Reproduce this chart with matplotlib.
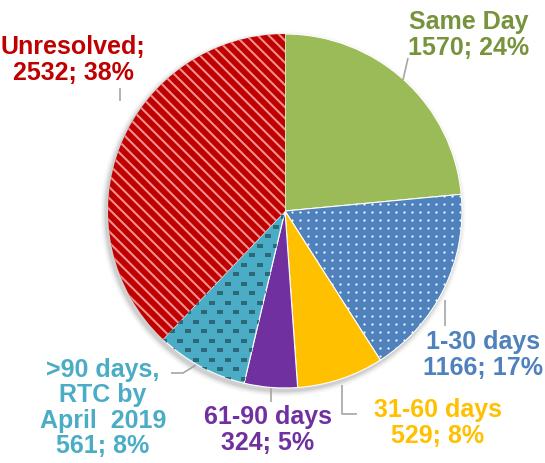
import numpy as np
import matplotlib
matplotlib.use("Agg")
import matplotlib.pyplot as plt
from matplotlib.patches import Circle

categories = ["Same Day", "1-30 days", "31-60 days", "61-90 days",
              ">90 days,\nRTC by\nApril  2019", "Unresolved"]
values = [1570, 1166, 529, 324, 561, 2532]
percents = [24, 17, 8, 5, 8, 38]
slice_colors = ["#9BBB59", "#4F81BD", "#FFC000", "#7030A0", "#4BACC6", "#C00000"]
label_colors = ["#77933C", "#4F81BD", "#FFC000", "#7030A0", "#4BACC6", "#C00000"]

W, H = 545, 463
fig = plt.figure(figsize=(W / 100, H / 100), dpi=100)
ax = fig.add_axes([0, 0, 1, 1])

cx, cy, R = 285, H - 211, 177

# soft shadow
for i, a in enumerate(np.linspace(0.05, 0.012, 6)):
    ax.add_patch(Circle((cx - 2, cy - 3), R + 1 + i, color="black", alpha=a, lw=0, zorder=0))

plt.rcParams["hatch.linewidth"] = 1.5
wedges, _ = ax.pie(values, colors=slice_colors, startangle=90, counterclock=False,
                   center=(cx, cy), radius=R, frame=True,
                   wedgeprops=dict(linewidth=0.8, edgecolor="white"))
ax.set_xlim(0, W)
ax.set_ylim(0, H)
ax.set_aspect("equal")
ax.axis("off")

wedges[5].set_hatch("\\\\\\")
wedges[5].set_edgecolor("#F09090")
wedges[5].set_linewidth(0)
for w in wedges:
    w.set_zorder(2)

# dot texture for 1-30 days
gx, gy = np.meshgrid(np.arange(cx - R, cx + R, 8), np.arange(cy - R, cy + R, 8))
dots = ax.scatter(gx.ravel(), gy.ravel(), s=2.5, color="white", lw=0, zorder=3)
dots.set_clip_path(wedges[1])
# dash texture for >90 days
gx2, gy2 = np.meshgrid(np.arange(cx - R, cx + R, 16), np.arange(cy - R, cy + R, 9.5))
gx2 = gx2 + (np.arange(gx2.shape[0])[:, None] % 2) * 8
dashes = ax.scatter(gx2.ravel(), gy2.ravel(), s=16, marker="_", color="#2D6878", lw=1.6, zorder=3)
dashes.set_clip_path(wedges[4])

fam = ["Liberation Sans", "DejaVu Sans"]
fs = 18

def lbl(x, y, s, c, ha="center"):
    ax.text(x, H - y, s, color=c, fontsize=fs, fontweight="bold", family=fam,
            ha=ha, va="center", linespacing=1.08, zorder=5)

texts = [f"{categories[i]}\n{values[i]}; {percents[i]}%" for i in range(6)]
texts[5] = f"Unresolved;\n{values[5]}; {percents[5]}%"
lbl(469, 35, texts[0], label_colors[0])
lbl(483, 355, texts[1], label_colors[1])
lbl(438, 423, texts[2], label_colors[2])
lbl(268, 430, texts[3], label_colors[3])
lbl(103, 408, texts[4], label_colors[4])
lbl(73, 60, texts[5], label_colors[5])

lc = "#A6A6A6"
def line(xs, ys):
    ax.plot(xs, [H - y for y in ys], color=lc, lw=1.2, zorder=4, solid_capstyle="butt")

line([408, 403], [58, 80])
line([120, 120], [88, 101])
line([445, 445], [300, 326])
line([342, 342, 357], [385, 414, 414])
line([271, 271], [388, 402])
line([171, 183, 196], [373, 373, 365])

fig.savefig("out.png", dpi=100)
